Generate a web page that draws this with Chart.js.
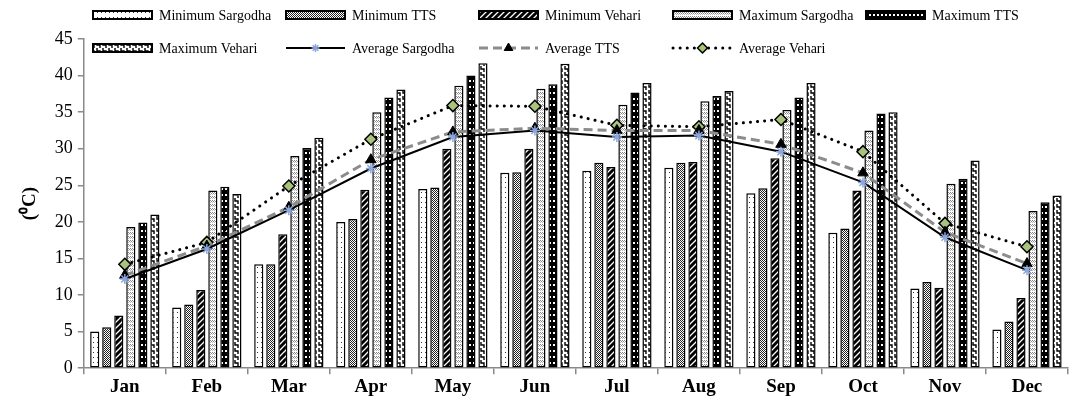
<!DOCTYPE html>
<html>
<head>
<meta charset="utf-8">
<script src="https://cdn.jsdelivr.net/npm/chart.js@4/dist/chart.umd.min.js"></script>
<style>
  body { margin: 0; background: #fff; }
  #wrap { width: 1077px; height: 403px; }
</style>
</head>
<body>
<div id="wrap"><canvas id="tempChart" width="1077" height="403"></canvas></div>
<script>
const months = ['Jan', 'Feb', 'Mar', 'Apr', 'May', 'Jun', 'Jul', 'Aug', 'Sep', 'Oct', 'Nov', 'Dec'];
const yTicks = [0, 5, 10, 15, 20, 25, 30, 35, 40, 45];

const minSargodha = [5.0, 8.3, 14.2, 20.0, 24.5, 26.7, 27.0, 27.4, 23.9, 18.5, 10.9, 5.3];
const minTTS      = [5.6, 8.7, 14.2, 20.4, 24.7, 26.8, 28.1, 28.1, 24.6, 19.1, 11.8, 6.4];
const minVehari   = [7.2, 10.7, 18.3, 24.4, 30.0, 30.0, 27.5, 28.2, 28.7, 24.3, 11.0, 9.6];
const maxSargodha = [19.3, 24.3, 29.0, 35.0, 38.6, 38.2, 36.0, 36.5, 35.3, 32.5, 25.2, 21.5];
const maxTTS      = [19.9, 24.8, 30.1, 37.0, 40.0, 38.8, 37.7, 37.2, 37.0, 34.8, 25.9, 22.7];
const maxVehari   = [21.0, 23.8, 31.5, 38.1, 41.7, 41.6, 39.0, 37.9, 39.0, 35.0, 28.4, 23.6];
const avgSargodha = [12.2, 16.3, 21.6, 27.3, 31.6, 32.5, 31.6, 31.8, 29.6, 25.4, 17.9, 13.4];
const avgTTS      = [12.7, 16.7, 22.0, 28.5, 32.3, 32.8, 32.5, 32.5, 30.6, 26.7, 18.6, 14.3];
const avgVehari   = [14.2, 17.2, 24.9, 31.3, 35.9, 35.8, 33.2, 33.0, 34.0, 29.6, 19.8, 16.6];

const canvas = document.getElementById('tempChart');
const ctx = canvas.getContext('2d');

// small tiles used as bar fills (imitating the excel pattern fills)
function makePattern(w, h, bg, draw) {
    const c = document.createElement('canvas');
    c.width = w;
    c.height = h;
    const g = c.getContext('2d');
    g.fillStyle = bg;
    g.fillRect(0, 0, w, h);
    draw(g);
    return ctx.createPattern(c, 'repeat');
}

const patDots = makePattern(4, 5, '#fff', g => {
    g.fillStyle = '#333';
    g.fillRect(1, 2, 1, 1);
});
const patChecker = makePattern(2, 2, '#fff', g => {
    g.fillStyle = '#222';
    g.fillRect(0, 0, 1, 1);
    g.fillRect(1, 1, 1, 1);
});
const patDiag = makePattern(6, 6, '#000', g => {
    g.strokeStyle = '#fff';
    g.lineWidth = 1.3;
    g.beginPath();
    g.moveTo(-1, 7); g.lineTo(7, -1);
    g.moveTo(-4, 4); g.lineTo(4, -4);
    g.moveTo(2, 10); g.lineTo(10, 2);
    g.stroke();
});
const patLattice = makePattern(4, 4, '#fff', g => {
    g.fillStyle = '#888';
    g.fillRect(0, 0, 1, 1);
    g.fillRect(2, 0, 1, 1);
    g.fillRect(1, 1, 1, 1);
    g.fillRect(3, 1, 1, 1);
    g.fillStyle = '#bbb';
    g.fillRect(0, 2, 1, 1);
    g.fillRect(2, 2, 1, 1);
});
const patBlackDots = makePattern(4, 6, '#000', g => {
    g.fillStyle = '#fff';
    g.fillRect(1, 2, 2, 2);
});
const patWave = makePattern(6, 6, '#fff', g => {
    g.strokeStyle = '#000';
    g.lineWidth = 1.4;
    g.beginPath();
    g.moveTo(1, 0); g.lineTo(1, 3); g.lineTo(4, 3); g.lineTo(4, 6);
    g.stroke();
});

const barStyle = (label, data, fill) => ({
    type: 'bar',
    label: label,
    data: data,
    backgroundColor: fill,
    borderColor: '#000',
    borderWidth: 1.5,
    borderSkipped: false,
    order: 2,
    categoryPercentage: 0.88,
    barPercentage: 0.76
});

const datasets = [
    barStyle('Minimum Sargodha', minSargodha, patDots),
    barStyle('Minimum TTS', minTTS, patChecker),
    barStyle('Minimum Vehari', minVehari, patDiag),
    barStyle('Maximum Sargodha', maxSargodha, patLattice),
    barStyle('Maximum TTS', maxTTS, patBlackDots),
    barStyle('Maximum Vehari', maxVehari, patWave),
    {
        type: 'line',
        label: 'Average Sargodha',
        data: avgSargodha,
        borderColor: '#000',
        borderWidth: 2,
        pointStyle: 'star',
        pointRadius: 5,
        pointBorderColor: '#8aa6da',
        pointBackgroundColor: '#8aa6da',
        pointBorderWidth: 1.5,
        order: 0
    },
    {
        type: 'line',
        label: 'Average TTS',
        data: avgTTS,
        borderColor: '#8c8c8c',
        borderWidth: 3,
        borderDash: [9, 5],
        pointStyle: 'triangle',
        pointRadius: 6,
        pointBorderColor: '#000',
        pointBackgroundColor: '#000',
        pointBorderWidth: 1,
        order: 0
    },
    {
        type: 'line',
        label: 'Average Vehari',
        data: avgVehari,
        borderColor: '#000',
        borderWidth: 3,
        borderDash: [0.1, 7],
        borderCapStyle: 'round',
        pointStyle: 'rectRot',
        pointRadius: 6,
        pointBorderColor: '#000',
        pointBackgroundColor: '#a8c37c',
        pointBorderWidth: 1.5,
        order: 0
    }
];

// legend drawn by hand so the second row can sit over the plot like the original
const legendPlugin = {
    id: 'handLegend',
    afterDraw(chart) {
        const c = chart.ctx;
        const cols = [93, 286, 479, 673, 866];
        const rows = [15, 48];
        const boxW = 59;
        c.save();
        chart.data.datasets.forEach((ds, i) => {
            const x = cols[i % 5];
            const y = rows[Math.floor(i / 5)];
            if (ds.type === 'bar') {
                c.fillStyle = ds.backgroundColor;
                c.fillRect(x, y - 4, boxW, 8);
                c.lineWidth = 2;
                c.strokeStyle = '#000';
                c.strokeRect(x, y - 4, boxW, 8);
            } else {
                c.beginPath();
                c.setLineDash(ds.borderDash || []);
                c.lineCap = ds.borderCapStyle || 'butt';
                c.lineWidth = ds.borderWidth;
                c.strokeStyle = ds.borderColor;
                c.moveTo(x, y);
                c.lineTo(x + boxW, y);
                c.stroke();
                c.setLineDash([]);
                c.fillStyle = ds.pointBackgroundColor;
                c.strokeStyle = ds.pointBorderColor;
                c.lineWidth = ds.pointBorderWidth;
                Chart.helpers.drawPoint(c, {
                    pointStyle: ds.pointStyle,
                    radius: ds.pointRadius - 1,
                    borderWidth: ds.pointBorderWidth,
                    rotation: 0
                }, x + boxW / 2, y);
            }
            c.fillStyle = '#000';
            c.font = '14px "Liberation Serif", "Times New Roman", serif';
            c.textBaseline = 'middle';
            c.textAlign = 'left';
            c.fillText(ds.label, x + boxW + 7, y + 1);
        });
        c.restore();
    }
};

const tempChart = new Chart(ctx, {
    data: {
        labels: months,
        datasets: datasets
    },
    options: {
        responsive: false,
        animation: false,
        layout: {
            padding: { top: 39, right: 9, left: 19, bottom: 4 }
        },
        plugins: {
            legend: { display: false },
            tooltip: { enabled: false }
        },
        scales: {
            x: {
                offset: true,
                grid: {
                    drawOnChartArea: false,
                    color: '#8a8a8a',
                    lineWidth: 1.5,
                    tickLength: 6,
                    offset: true
                },
                border: { color: '#8a8a8a', width: 1.5 },
                ticks: {
                    color: '#000',
                    padding: 1,
                    maxRotation: 0,
                    font: { family: '"Liberation Serif", "Times New Roman", serif', size: 19, weight: 'bold' }
                }
            },
            y: {
                min: 0,
                max: 45,
                afterBuildTicks: axis => {
                    axis.ticks = yTicks.map(v => ({ value: v }));
                },
                grid: {
                    drawOnChartArea: false,
                    color: '#8a8a8a',
                    lineWidth: 1.5,
                    tickLength: 6
                },
                border: { color: '#8a8a8a', width: 1.5 },
                ticks: {
                    color: '#000',
                    padding: 5,
                    font: { family: '"Liberation Serif", "Times New Roman", serif', size: 18 }
                },
                title: {
                    display: true,
                    text: '(⁰C)',
                    color: '#000',
                    padding: { top: 0, bottom: 8 },
                    font: { family: '"Liberation Serif", "Times New Roman", serif', size: 19, weight: 'bold' }
                }
            }
        }
    },
    plugins: [legendPlugin]
});
</script>
</body>
</html>
